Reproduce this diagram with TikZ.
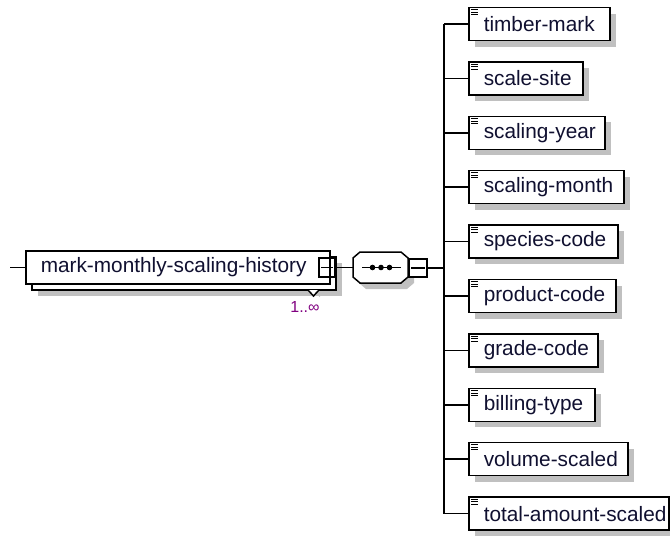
\documentclass[tikz,border=0pt]{standalone}
\usepackage{fontspec}
\setmainfont{Liberation Sans}
\usetikzlibrary{shadows}
\definecolor{shad}{HTML}{C0C0C0}
\definecolor{occc}{HTML}{800080}
\definecolor{txt}{HTML}{101030}
\begin{document}
\begin{tikzpicture}[x=1pt,y=-1pt,
  lw/.style={line width=1.5pt},
  plainbox/.style={draw, lw, fill=white, rectangle, inner xsep=15pt, inner ysep=0pt,
    minimum height=33pt, anchor=west, text=txt, font=\fontsize{20.8}{24}\selectfont},
  shbox/.style={plainbox, drop shadow={shadow xshift=6pt, shadow yshift=-6pt, fill=shad, opacity=1}},
  minusbox/.style={draw, lw, rectangle, inner sep=0pt},
  iconline/.style={line width=1pt}
]
\useasboundingbox (0,0) rectangle (670,536);

% main element
\coordinate (start) at (10,267.5);
\node[shbox] (mback) at (31,273.5) {\makebox[274pt][l]{}};
\node[plainbox] (mfront) at (25,267.5) {\makebox[274pt][l]{mark-monthly-scaling-history}};
\node[minusbox, minimum width=16pt, minimum height=19pt] (mm) at (327,267.5) {};
\draw[lw] ([xshift=3pt]mm.west) -- ([xshift=-3pt]mm.east);
\fill[shad] (314,291) -- (319.5,297) -- (325,291) -- cycle;
\draw[lw, fill=white] (308,290) -- (313.5,296) -- (319,290);
\node[text=occc, font=\fontsize{16}{18}\selectfont, inner sep=0pt] (occ) at (305,307) {1..∞};
\draw[lw] (start) -- (mfront.west);

% sequence compositor
\node[rectangle, draw=none, minimum width=55pt, minimum height=31pt, inner sep=0pt] (seq) at (380.5,267.5) {};
\fill[shad] (366,258) -- (407,258) -- (414,264) -- (414,283) -- (407,289) -- (366,289) -- (359,283) -- (359,264) -- cycle;
\draw[lw, fill=white] (360,252) -- (401,252) -- (408,258) -- (408,277) -- (401,283) -- (360,283) -- (353,277) -- (353,258) -- cycle;
\draw[lw] (362,267.5) -- (401,267.5);
\foreach \dx in {372.5,381,389.5}
  \fill (\dx,267.5) circle (2.8pt);
\node[minusbox, fill=white, minimum width=18pt, minimum height=18pt] (sm) at (418,268) {};
\draw[lw] ([xshift=3pt]sm.west) -- ([xshift=-3pt]sm.east);
\draw[lw] (mm.east) -- (seq.west);
\coordinate (bus) at (444,268);
\draw[lw] (sm.east) -- (bus);

% children
\foreach \nm/\r [count=\i from 0] in {timber-mark/609, scale-site/582, scaling-year/604,
    scaling-month/623, species-code/617, product-code/615, grade-code/597,
    billing-type/594, volume-scaled/627, total-amount-scaled/668}{
  \pgfmathsetmacro\cy{24+54.4*\i}
  \pgfmathsetmacro\tw{\r-468-30}
  \node[shbox] (c\i) at (468,\cy) {\makebox[\tw pt][l]{\nm}};
  \foreach \k in {3pt,5.5pt,8pt}
    \draw[iconline] ([xshift=3pt,yshift=-\k]c\i.north west) -- ++(7pt,0pt);
  \draw[lw] (c\i.west) -- (c\i.west -| bus);
}
\draw[lw] (c0.west -| bus) -- (c9.west -| bus);
\end{tikzpicture}
\end{document}
